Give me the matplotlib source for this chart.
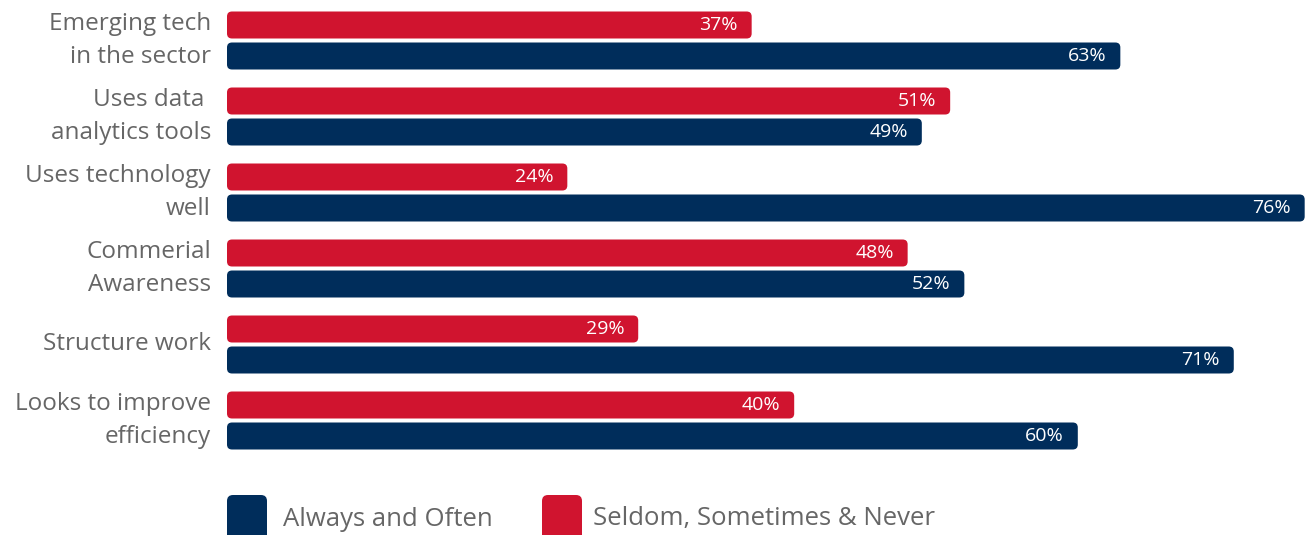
import matplotlib
matplotlib.use("Agg")
import matplotlib.pyplot as plt
from matplotlib.patches import FancyBboxPatch

categories = [
    "Emerging tech\nin the sector",
    "Uses data \nanalytics tools",
    "Uses technology\nwell",
    "Commerial\nAwareness",
    "Structure work",
    "Looks to improve\nefficiency",
]
always_often = [63, 49, 76, 52, 71, 60]
seldom_never = [37, 51, 24, 48, 29, 40]
series_names = ["Always and Often", "Seldom, Sometimes & Never"]

NAVY = "#002D5B"
RED = "#D0142F"
GREY = "#666666"

plt.rcParams["font.family"] = ["Open Sans", "DejaVu Sans"]

W, H = 1312, 535
fig = plt.figure(figsize=(W / 100, H / 100), dpi=100)

# axes starts at the bars' left edge; 14.18 px per percent
left_px = 227
px_per_pct = 14.18
group_px = 76.0
first_center_px = 40.5
ax = fig.add_axes([left_px / W, 0, 1 - left_px / W, 1])
ax.set_xlim(0, (W - left_px) / px_per_pct)
ax.set_ylim((H - first_center_px) / group_px, -first_center_px / group_px)
ax.axis("off")

bar_h = 27 / group_px
offset = 15.5 / group_px
radius = 5 / px_per_pct
aspect = px_per_pct / group_px


def rounded_bar(y, value, color):
    patch = FancyBboxPatch((0, y - bar_h / 2), value, bar_h,
                           boxstyle=f"round,pad=0,rounding_size={radius}",
                           mutation_aspect=aspect, fc=color, ec="none")
    ax.add_patch(patch)
    ax.text(value - 14 / px_per_pct, y, f"{value}%", ha="right", va="center",
            color="white", fontsize=14)


for i, (a, s) in enumerate(zip(always_often, seldom_never)):
    rounded_bar(i - offset, s, RED)
    rounded_bar(i + offset, a, NAVY)
    ax.text(-16 / px_per_pct, i, categories[i], ha="right", va="center",
            color=GREY, fontsize=17.5, linespacing=1.45, clip_on=False)

# legend along the bottom edge, squares run off the figure
sq = 40
for x0, tx, color, label in [(227, 283, NAVY, series_names[0]),
                             (542, 593, RED, series_names[1])]:
    box = FancyBboxPatch((x0 / W, -0.03), sq / W, (H - 495) / H + 0.03,
                         boxstyle=f"round,pad=0,rounding_size={6 / W}",
                         mutation_aspect=W / H, transform=fig.transFigure,
                         fc=color, ec="none")
    fig.patches.append(box)
    fig.text(tx / W, 1 - 519 / H, label, ha="left", va="center",
             color=GREY, fontsize=18.5)

fig.savefig("out.png", dpi=100)
